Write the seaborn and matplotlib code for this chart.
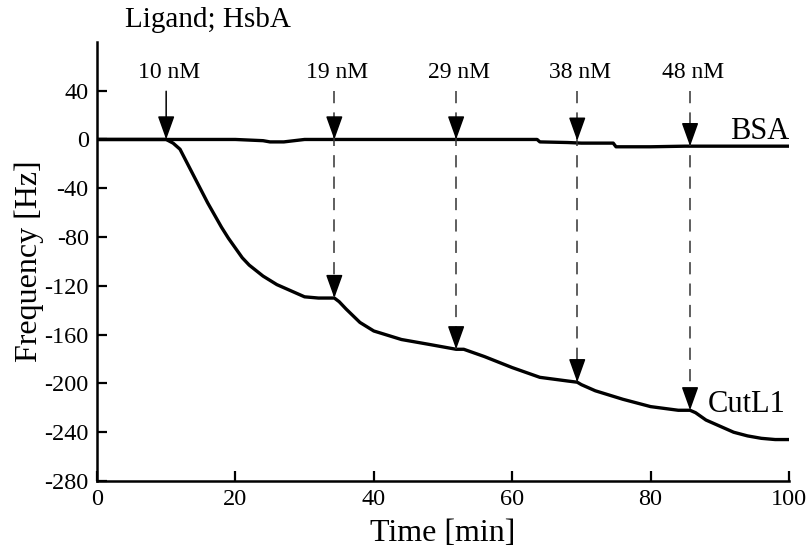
import numpy as np
import pandas as pd
import matplotlib
matplotlib.use("Agg")
import matplotlib.pyplot as plt
import seaborn as sns

# CutL1 trace (time in min, frequency shift in Hz)
cut_time = [0, 5, 10, 11, 12, 13, 14, 15, 16, 17, 18, 19, 20, 21, 22, 24, 26, 28, 30, 32, 34.3,
            35, 36, 38, 40, 44, 48, 51.9, 53, 56, 60, 64, 68, 69.4, 70, 72, 76, 80, 84,
            85.7, 86.5, 88, 90, 92, 94, 96, 98, 100]
cut_freq = [0, 0, 0, -3, -8, -19, -30, -41, -52, -62, -72, -81, -89, -97, -103, -112, -119, -124, -129, -130, -130,
            -133, -139, -150, -157, -164, -168, -172, -172, -178, -187, -195, -198, -199, -201, -206, -213, -219, -222,
            -222, -224, -230, -235, -240, -243, -245, -246, -246]

# BSA trace
bsa_time = [0, 10, 20, 24, 25, 27, 28.5, 30, 40, 50, 60, 63.6, 64, 68, 70, 74.6, 75, 80, 85, 90, 95, 100]
bsa_freq = [0, 0, 0, -1, -2, -2, -1, 0, 0, 0, 0, 0, -2, -2.5, -3, -3, -6, -6, -5.5, -5.5, -5.5, -5.5]

# ligand injections
inj_labels = ["10 nM", "19 nM", "29 nM", "38 nM", "48 nM"]
inj_time = [10, 34.3, 51.9, 69.4, 85.7]
inj_bsa = [0, 0, 0, -1, -5.5]
inj_cut = [0, -130, -172, -199, -222]

sns.set_style("ticks", {"axes.edgecolor": "black", "xtick.color": "black",
                        "ytick.color": "black", "text.color": "black",
                        "axes.labelcolor": "black"})
plt.rcParams['font.family'] = ['Liberation Serif', 'DejaVu Serif']
plt.rcParams['axes.unicode_minus'] = False

fig = plt.figure(figsize=(8.08, 5.51), dpi=100)
ax = fig.add_axes([0.120, 0.127, 0.8565, 0.797])

df_cut = pd.DataFrame({"t": cut_time, "f": cut_freq})
df_bsa = pd.DataFrame({"t": bsa_time, "f": bsa_freq})
sns.lineplot(data=df_cut, x="t", y="f", ax=ax, color="black", lw=2.4)
sns.lineplot(data=df_bsa, x="t", y="f", ax=ax, color="black", lw=2.4)

top = 39.5
head = dict(arrowstyle="-|>,head_length=1.45,head_width=0.52", color="black",
            lw=1.1, shrinkA=0, shrinkB=0, mutation_scale=10)
for i, (lab, t, yb, yc) in enumerate(zip(inj_labels, inj_time, inj_bsa, inj_cut)):
    ax.text(t + 0.4, 55, lab, ha="center", va="center", fontsize=17)
    if i == 0:
        ax.annotate("", xy=(t, yb), xytext=(t, top), arrowprops=head)
    else:
        ax.plot([t, t], [top, yc], color="#333333", lw=1.1, ls=(0, (8, 6)))
        ax.annotate("", xy=(t, yb), xytext=(0, 15), textcoords="offset points",
                    xycoords="data", arrowprops=head)
        ax.annotate("", xy=(t, yc), xytext=(0, 15), textcoords="offset points",
                    xycoords="data", arrowprops=head)

ax.text(91.5, 6.5, "BSA", ha="left", va="center", fontsize=22)
ax.text(88.3, -217.6, "CutL1", ha="left", va="center", fontsize=22)
fig.text(0.155, 0.964, "Ligand; HsbA", ha="left", va="center", fontsize=21)

ax.set_xlim(0, 100)
ax.set_ylim(-280, 80)
ax.set_xticks(np.arange(0, 101, 20))
ax.set_yticks(np.arange(-280, 41, 40))
ax.set_xlabel("Time [min]", fontsize=23, labelpad=6)
ax.set_ylabel("Frequency [Hz]", fontsize=23, labelpad=0)
ax.tick_params(direction="in", length=7, width=1.6, labelsize=17.5, pad=6)
for s in ["left", "bottom"]:
    ax.spines[s].set_linewidth(1.8)
sns.despine(ax=ax)

fig.savefig("out.png", dpi=100)
